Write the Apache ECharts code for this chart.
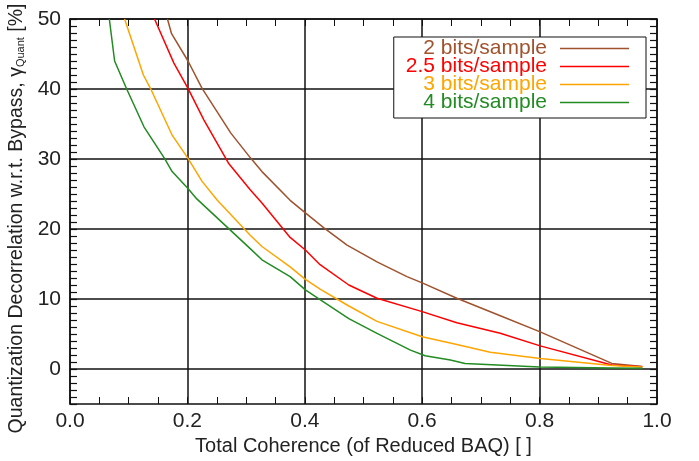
<!DOCTYPE html>
<html>
<head>
<meta charset="utf-8">
<script src="https://cdn.jsdelivr.net/npm/echarts@6/dist/echarts.min.js"></script>
<style>
html,body{margin:0;padding:0;background:#fff;}
#chart{width:699px;height:461px;}
</style>
</head>
<body>
<div id="chart"></div>
<script>
var seriesNames = ['2 bits/sample', '2.5 bits/sample', '3 bits/sample', '4 bits/sample'];
var seriesColors = ['#a0522d', '#ff0000', '#ffa500', '#228b22'];

var bits2 = [[0.166,50],[0.173,47.9],[0.201,44.0],[0.225,40.1],[0.274,33.7],[0.307,30.2],[0.327,28.2],[0.375,24.1],[0.401,22.3],[0.432,20.2],[0.472,17.7],[0.523,15.3],[0.574,13.2],[0.600,12.3],[0.659,10.1],[0.733,7.6],[0.801,5.3],[0.923,0.8],[0.975,0.35]];
var bits25 = [[0.144,50],[0.177,43.7],[0.201,40.1],[0.228,35.6],[0.270,29.4],[0.307,25.6],[0.327,23.7],[0.375,18.8],[0.401,17.0],[0.426,14.9],[0.475,12.0],[0.523,10.1],[0.600,8.2],[0.659,6.6],[0.733,5.1],[0.801,3.3],[0.923,0.57],[0.975,0.33]];
var bits3 = [[0.093,50],[0.125,42.0],[0.137,40.1],[0.174,33.4],[0.201,30.1],[0.225,26.8],[0.251,24.1],[0.307,19.1],[0.327,17.5],[0.375,14.6],[0.401,12.8],[0.426,11.4],[0.475,9.0],[0.523,6.8],[0.600,4.6],[0.659,3.5],[0.716,2.4],[0.801,1.5],[0.923,0.5],[0.975,0.3]];
var bits4 = [[0.067,50],[0.076,44.0],[0.096,40.1],[0.126,34.6],[0.161,30.1],[0.174,28.2],[0.201,25.8],[0.216,24.3],[0.307,17.2],[0.327,15.6],[0.375,13.2],[0.401,11.3],[0.426,9.9],[0.475,7.2],[0.523,5.1],[0.580,2.7],[0.605,1.9],[0.648,1.3],[0.673,0.8],[0.800,0.3],[0.923,0.15],[0.975,0.1]];
var seriesData = [bits2, bits25, bits3, bits4];

var xTitle = 'Total Coherence (of Reduced BAQ) [ ]';
var yTitle = '{a|Quantization Decorrelation w.r.t. Bypass, γ}{s|Quant}{a| [%]}';

var textColor = '#222';
var fam = 'Liberation Sans, Arial, sans-serif';

function xAx(pos, labels) {
  return {
    type: 'value', position: pos, min: 0, max: 1, interval: 0.2,
    axisLine: {show: true, onZero: false, lineStyle: {color: '#111', width: 1.5}},
    axisTick: {show: true, inside: true, length: 7, lineStyle: {color: '#111', width: 1}},
    minorTick: {show: true, splitNumber: 4, length: 7, lineStyle: {color: '#111', width: 1}},
    splitLine: {show: labels, lineStyle: {color: '#111', width: 1.5}},
    axisLabel: {show: labels, fontSize: 21, color: textColor, fontFamily: fam, margin: 7,
      formatter: function (v) { return v.toFixed(1); }},
    name: labels ? xTitle : '', nameLocation: 'middle', nameGap: 27,
    nameTextStyle: {fontSize: 20, color: textColor, fontFamily: fam}
  };
}
function yAx(pos, labels) {
  return {
    type: 'value', position: pos, min: -5, max: 50, interval: 5,
    axisLine: {show: true, onZero: false, lineStyle: {color: '#111', width: 1.5}},
    axisTick: {show: true, inside: true, length: 7, lineStyle: {color: '#111', width: 1.2}},
    minorTick: {show: true, splitNumber: 5, length: 7, lineStyle: {color: '#111', width: 1.2}},
    splitLine: {show: labels, lineStyle: {color: ['rgba(0,0,0,0)', '#111'], width: 1.5}},
    axisLabel: {show: labels, fontSize: 21, color: textColor, fontFamily: fam, margin: 9,
      formatter: function (v) { return (v % 10 === 0) ? String(v) : ''; }},
    name: labels ? yTitle : '', nameLocation: 'middle', nameRotate: 90, nameGap: 40,
    nameTextStyle: {color: textColor, fontFamily: fam, padding: [0, 14, 0, 0],
      rich: {a: {fontSize: 19.5, color: textColor, fontFamily: fam},
             s: {fontSize: 11, color: textColor, fontFamily: fam, verticalAlign: 'bottom', padding: [8, 0, 0, 0]}}}
  };
}

var series = seriesNames.map(function (n, i) {
  return {
    name: n, type: 'line', xAxisIndex: 0, yAxisIndex: 0,
    data: seriesData[i], showSymbol: false, symbol: 'none',
    lineStyle: {color: seriesColors[i], width: 1.5},
    itemStyle: {color: seriesColors[i]},
    clip: true, animation: false
  };
});

var chart = echarts.init(document.getElementById('chart'), null, {renderer: 'canvas'});
chart.setOption({
  animation: false,
  backgroundColor: '#fff',
  grid: {left: 70, right: 42, top: 19, bottom: 57, containLabel: false, outerBoundsMode: 'none'},
  xAxis: [xAx('bottom', true), xAx('top', false)],
  yAxis: [yAx('left', true), yAx('right', false)],
  legend: {
    orient: 'vertical', align: 'right', right: 53, top: 37,
    backgroundColor: '#fff', borderColor: '#111', borderWidth: 1,
    padding: [1, 17, 5, 12], itemGap: -3,
    icon: 'rect', itemWidth: 69, itemHeight: 1.5,
    selectedMode: false,
    textStyle: {fontSize: 21, lineHeight: 18, fontFamily: fam, padding: [0, 8, 0, 0]},
    data: seriesNames.map(function (n, i) { return {name: n, textStyle: {color: seriesColors[i]}}; })
  },
  series: series
});
</script>
</body>
</html>
